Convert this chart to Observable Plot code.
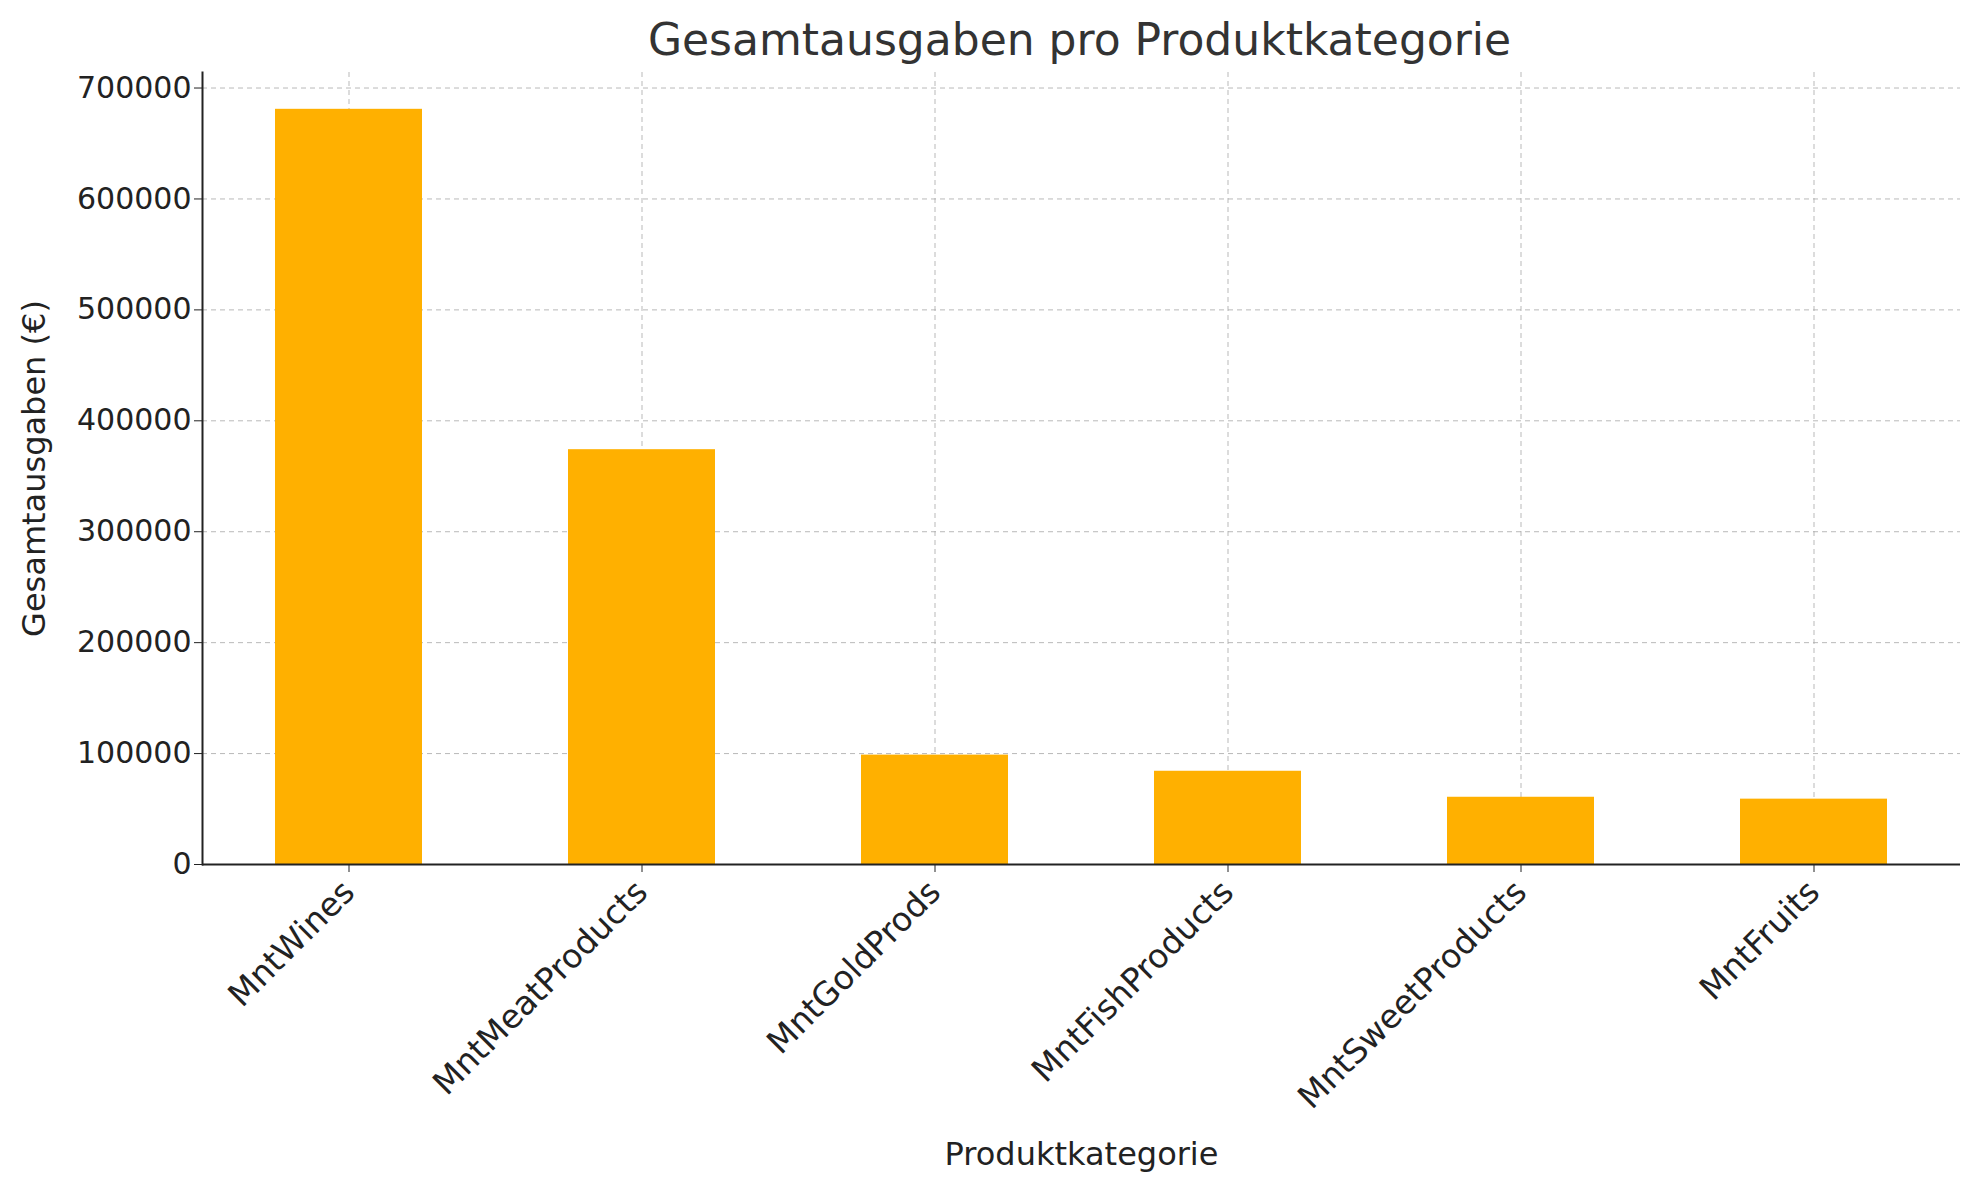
<!DOCTYPE html>
<html>
<head>
<meta charset="utf-8">
<script src="https://cdn.jsdelivr.net/npm/d3@7"></script>
<script src="https://cdn.jsdelivr.net/npm/@observablehq/plot@0.6"></script>
<style>
  body { margin: 0; background: #fff; font-family: "DejaVu Sans", sans-serif; }
  #title { height: 70px; line-height: 80px; text-align: center; font-size: 44px; color: #333; padding-left: 180px; }
</style>
</head>
<body>
<div id="title">Gesamtausgaben pro Produktkategorie</div>
<div id="chart"></div>
<script>
// Kategorien und Summen
const categories = ["MntWines", "MntMeatProducts", "MntGoldProds", "MntFishProducts", "MntSweetProducts", "MntFruits"];
const totals = [680816, 373968, 98609, 84057, 60621, 58917];
const yTicks = [0, 100000, 200000, 300000, 400000, 500000, 600000, 700000];

const data = categories.map((c, i) => ({ category: c, total: totals[i] }));

const plot = Plot.plot({
  width: 1979,
  height: 1110,
  marginTop: 2,
  marginLeft: 202,
  marginRight: 19,
  marginBottom: 316,
  style: { fontSize: "30px", fontFamily: "DejaVu Sans, sans-serif", color: "#222" },
  x: { domain: categories, paddingInner: 0.5, paddingOuter: 0.25, label: null },
  y: { domain: [0, 714000], ticks: yTicks, label: null },
  marks: [
    Plot.gridX({ stroke: "#a8a8a8", strokeOpacity: 0.8, strokeDasharray: "5,4" }),
    Plot.gridY(yTicks, { stroke: "#a8a8a8", strokeOpacity: 0.8, strokeDasharray: "5,4" }),
    Plot.barY(data, { x: "category", y: "total", fill: "#FFB000" }),
    Plot.axisX({ tickRotate: -45, tickSize: 8, tickPadding: 14, fontSize: 33, label: null }),
    Plot.axisY(yTicks, { tickSize: 8, fontSize: 30, tickFormat: d => String(d), label: null }),
    Plot.ruleY([0], { stroke: "#222", strokeWidth: 2 }),
    Plot.frame({ anchor: "left", stroke: "#222", strokeWidth: 2 }),
    Plot.text(["Produktkategorie"], { frameAnchor: "bottom", lineAnchor: "middle", dy: 290, fontSize: 32, fill: "#222" }),
    Plot.text(["Gesamtausgaben (€)"], { frameAnchor: "left", textAnchor: "middle", dx: -168, rotate: -90, fontSize: 32, fill: "#222" })
  ]
});
document.getElementById("chart").appendChild(plot);
</script>
</body>
</html>
